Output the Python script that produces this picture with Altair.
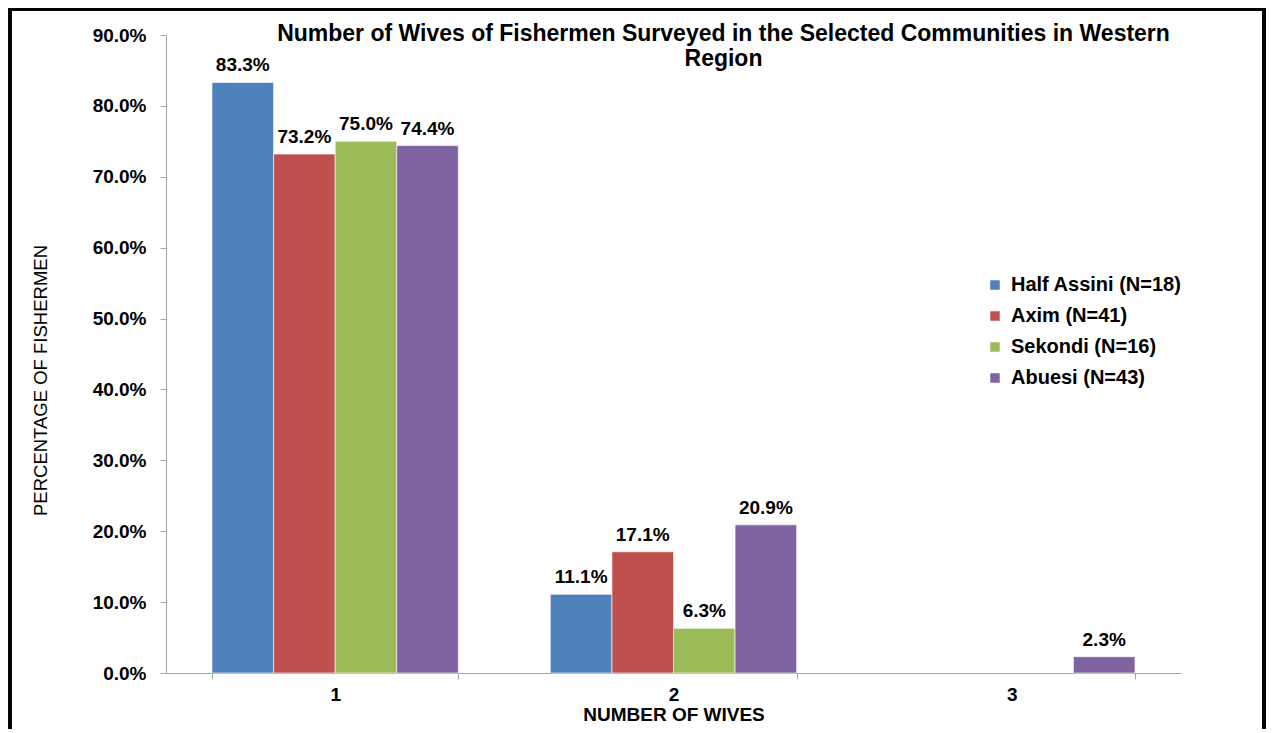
import altair as alt
import pandas as pd

categories = ["1", "2", "3"]
series = ["Half Assini (N=18)", "Axim (N=41)", "Sekondi (N=16)", "Abuesi (N=43)"]
colors = ["#4F81BD", "#C0504D", "#9BBB59", "#8064A2"]
half_assini = [0.833, 0.111, 0.0]
axim = [0.732, 0.171, 0.0]
sekondi = [0.750, 0.063, 0.0]
abuesi = [0.744, 0.209, 0.023]

rows = []
for s, vals in zip(series, [half_assini, axim, sekondi, abuesi]):
    for c, v in zip(categories, vals):
        rows.append({"wives": c, "community": s, "pct": v})
df = pd.DataFrame(rows)

FONT = "Liberation Sans"

x_enc = alt.X(
    "wives:N", sort=categories,
    scale=alt.Scale(paddingInner=0.272, paddingOuter=0.136),
    axis=alt.Axis(
        title="NUMBER OF WIVES", labelAngle=0, tickBand="extent",
        labelFontSize=19, labelFontWeight="bold", labelFont=FONT, labelColor="black",
        labelPadding=6, titleFontSize=19, titleFontWeight="bold", titleFont=FONT,
        titleColor="black", titlePadding=1,
        domainColor="#A6A6A6", tickColor="#A6A6A6", tickSize=6,
    ),
)
xo_enc = alt.XOffset("community:N", sort=series, scale=alt.Scale(domain=series, paddingInner=0, paddingOuter=0))
y_enc = alt.Y(
    "pct:Q",
    scale=alt.Scale(domain=[0, 0.9], nice=False),
    axis=alt.Axis(
        title="PERCENTAGE OF FISHERMEN", format=".1%", values=[i / 10 for i in range(10)],
        grid=False, labelFontSize=19, labelFontWeight="bold", labelFont=FONT,
        labelColor="black", labelPadding=14, titleFontSize=18.5, titleFontWeight="normal",
        titleFont=FONT, titleColor="black", titleX=-116, titleY=345,
        domainColor="#A6A6A6", tickColor="#A6A6A6", tickSize=6,
    ),
)
color_enc = alt.Color(
    "community:N", sort=series,
    scale=alt.Scale(domain=series, range=colors),
    legend=alt.Legend(
        title=None, orient="none", legendX=819, legendY=240,
        symbolType="square", symbolSize=90, symbolStrokeWidth=0,
        labelFontSize=20, labelFontWeight="bold", labelFont=FONT, labelColor="black",
        labelOffset=6, rowPadding=11, labelLimit=400,
    ),
)

base = alt.Chart(df).encode(x=x_enc, xOffset=xo_enc, y=y_enc)

bars = base.transform_filter(alt.datum.pct > 0).mark_bar(
    stroke="white", strokeWidth=0.6
).encode(color=color_enc)

labels = base.transform_filter(alt.datum.pct > 0).mark_text(
    baseline="bottom", dy=-7, fontSize=19, fontWeight="bold", font=FONT, color="black"
).encode(text=alt.Text("pct:Q", format=".1%"))

border = alt.Chart(df).mark_rect(
    fill=None, stroke="black", strokeWidth=2.5, clip=False
).encode(
    x=alt.value(-156), x2=alt.value(1098), y=alt.value(-26), y2=alt.value(760)
)

chart = alt.layer(bars, labels, border).properties(
    width=1015, height=638,
    padding={"left": 158, "top": 27, "right": 85, "bottom": 56},
    autosize=alt.AutoSizeParams(type="none"),
    title=alt.TitleParams(
        text=["Number of Wives of Fishermen Surveyed in the Selected Communities in Western", "Region"],
        fontSize=23, fontWeight="bold", font=FONT, color="black",
        anchor="middle", dx=50, dy=63, offset=0, lineHeight=25,
    ),
).configure_view(stroke=None)

chart.save("out.html", embed_options={"renderer": "svg", "actions": False})
